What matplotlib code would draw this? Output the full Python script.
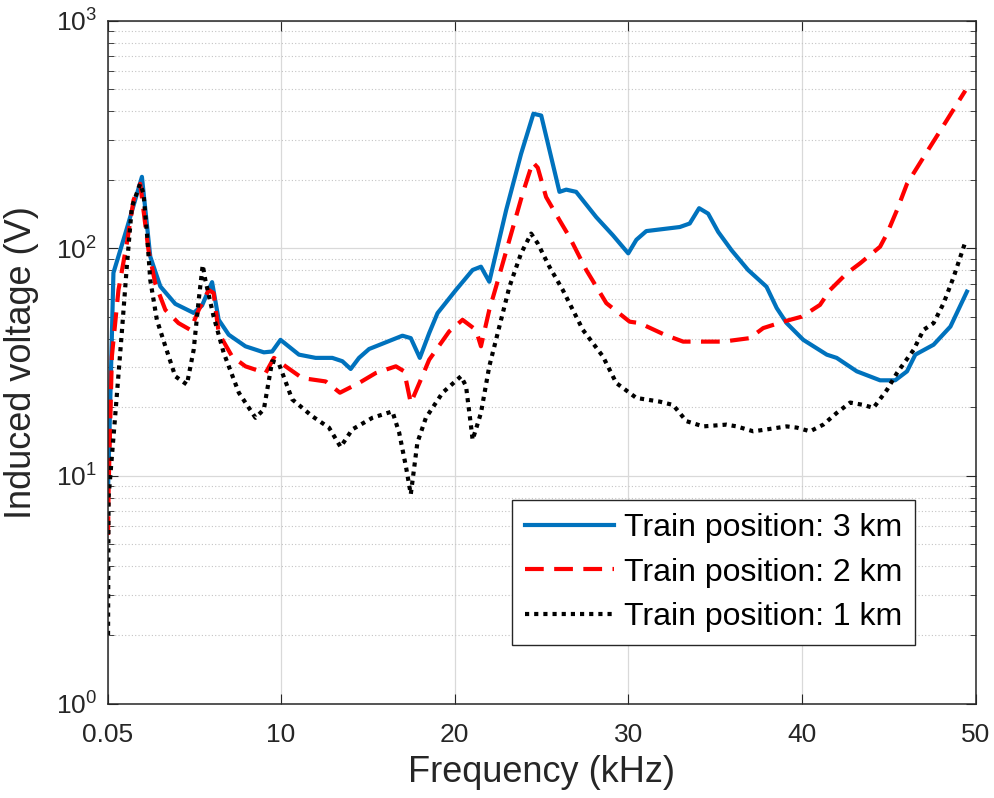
import matplotlib
matplotlib.use("Agg")
import matplotlib.pyplot as plt
from matplotlib.ticker import FixedLocator, LogLocator, NullFormatter

plt.rcParams['font.family'] = ['Liberation Sans', 'DejaVu Sans']
plt.rcParams['mathtext.default'] = 'regular'

## données

f_3km = [0.05, 0.36, 1.13, 2.0, 2.48, 3.06, 3.92, 4.98, 5.46, 6.04, 6.42, 7.0, 7.96,
         9.02, 9.5, 9.98, 11.04, 12.0, 12.96, 13.54, 14.02, 14.5, 15.08, 17.0, 17.48,
         18.0, 18.54, 19.02, 20.08, 21.04, 21.52, 22.0, 22.97, 23.83, 24.54, 24.99,
         26.04, 26.43, 27.0, 28.16, 29.12, 30.0, 30.47, 31.04, 32.97, 33.54, 34.08,
         34.6, 35.18, 35.95, 36.9, 37.96, 38.55, 39.12, 40.08, 41.43, 42.0, 43.16,
         44.5, 45.37, 46.05, 46.53, 47.58, 48.55, 49.5]
v_3km = [8.7, 78, 122, 206, 92, 68, 57, 52, 56, 71, 48.5, 41.7, 37.1,
         34.9, 35.2, 39.6, 34.1, 33.0, 33.0, 31.9, 29.5, 33, 36.1, 41.3, 40.3,
         33, 42.4, 51.9, 65.6, 80.3, 83, 71.3, 147, 260, 390, 383,
         177, 181, 177, 137, 114, 95, 109, 119, 124, 128.5, 150,
         142, 118, 98, 80.3, 67.8, 54.6, 46.9, 39.6, 34.1, 33, 28.8,
         26.3, 26.3, 28.8, 34.1, 37.7, 45.3, 64.5]

f_2km = [0.05, 0.08, 0.27, 0.65, 1.13, 1.52, 1.9, 2.38, 2.77, 3.35, 4.11, 4.79, 5.27,
         5.85, 6.13, 6.42, 7.19, 7.96, 9.12, 9.6, 10.27, 11.23, 12.58, 13.4, 14.5,
         15.46, 16.62, 17.1, 17.48, 18.06, 18.54, 19.69, 20.46, 21.23, 21.52, 22.0,
         22.39, 23.16, 23.92, 24.5, 24.79, 25.27, 26.04, 26.62, 27.58, 28.74, 30.08,
         30.66, 32.1, 33.16, 35.46, 37.0, 37.77, 38.93, 40.0, 41.04, 41.62, 42.58,
         43.35, 44.5, 44.9, 45.47, 46.05, 47.0, 47.97, 48.93, 49.41]
v_2km = [5.5, 8.7, 33.5, 65.6, 105, 163, 192, 98, 70, 53.6, 46.9, 43.8, 53.6,
         65.6, 63.5, 42.4, 33.5, 30.3, 28.3, 33, 30.3, 26.9, 26.0, 23.2, 25.6,
         28.3, 30.3, 28.8, 20.9, 26.5, 32.4, 43.1, 48.5, 43.8, 37.1, 53.6,
         67.8, 109, 174, 239, 226, 168, 133, 112, 80.3, 57.4, 47.6,
         46.9, 41.7, 38.9, 38.9, 40.3, 44.6, 47.6, 50.1, 56.4, 65.6, 77.6,
         85.9, 101.6, 116, 147, 192, 251, 329, 431, 493]

f_1km = [0.05, 0.08, 0.46, 0.84, 1.13, 1.42, 1.9, 2.09, 2.29, 2.48, 2.86, 3.35, 3.92,
         4.59, 4.98, 5.27, 5.5, 5.65, 6.13, 6.71, 7.58, 8.54, 9.02, 9.5, 9.88, 10.65,
         11.8, 12.77, 13.44, 14.11, 15.27, 16.42, 16.81, 17.2, 17.48, 17.86, 18.35,
         19.31, 20.37, 20.66, 20.95, 21.04, 21.52, 22.0, 22.58, 23.16, 23.83, 24.41,
         24.79, 25.46, 26.23, 27.39, 28.54, 29.31, 30.47, 31.81, 32.58, 33.35, 34.31,
         35.66, 36.24, 37.2, 37.96, 39.12, 39.7, 40.47, 41.23, 42.0, 42.78, 43.54,
         44.12, 44.9, 45.47, 46.43, 47.0, 47.58, 48.16, 48.74, 49.41]
v_1km = [2.0, 8.06, 18.3, 42.4, 83, 152, 192, 174, 116, 72.6, 48.5, 37.1, 27.4,
         25.2, 35.8, 59.3, 84.4, 72.6, 50.1, 34.7, 23.2, 18.0, 19.6, 31.9, 31.2, 21.7,
         18.3, 16.3, 13.4, 16, 18.0, 19.2, 15.5, 11, 8.3, 14, 18,
         23.2, 27.4, 24.8, 16.5, 14.4, 18.9, 30.3, 45.3, 67.8, 95, 116,
         105, 83, 65.6, 43.8, 33.5, 25.6, 22, 21.2, 20.5, 17.4, 16.5,
         16.8, 16.5, 15.7, 16, 16.5, 16.3, 15.7, 16.8, 18.9, 21.0, 20.5,
         19.9, 23.9, 28.3, 35.8, 43.8, 46.9, 57.4, 75, 106.7]

x_ticks = [0.05, 10, 20, 30, 40, 50]
x_tick_labels = ["0.05", "10", "20", "30", "40", "50"]

## le dessin

fig = plt.figure(figsize=(9.94, 7.98), dpi=100)
ax = fig.add_axes([0.1087, 0.1184, 0.8728, 0.8557])

ax.plot(f_3km, v_3km, color="#0072BD", lw=3, label="Train position: 3 km")
ax.plot(f_2km, v_2km, color="red", lw=3, dashes=(4.5, 2.5), label="Train position: 2 km")
ax.plot(f_1km, v_1km, color="black", lw=3, dashes=(1, 1.2), dash_capstyle="butt",
        label="Train position: 1 km")

ax.set_yscale("log")
ax.set_xlim(0.05, 50)
ax.set_ylim(1, 1000)
ax.xaxis.set_major_locator(FixedLocator(x_ticks))
ax.set_xticklabels(x_tick_labels)
ax.yaxis.set_major_locator(LogLocator(base=10, numticks=10))
ax.yaxis.set_minor_locator(LogLocator(base=10, subs=range(2, 10), numticks=20))
ax.yaxis.set_minor_formatter(NullFormatter())

dark = "#262626"
for s in ax.spines.values():
    s.set_color(dark)
    s.set_linewidth(1.1)
ax.tick_params(which="both", direction="in", top=True, right=True, colors=dark,
               labelcolor=dark, labelsize=19)
ax.tick_params(axis="x", which="major", length=7, pad=14)
ax.tick_params(axis="y", which="major", length=7, pad=8)
ax.tick_params(axis="y", which="minor", length=4)

ax.grid(True, which="major", color="#d9d9d9", lw=0.9, ls="-")
ax.grid(True, which="minor", axis="y", color="#c4c4c4", lw=0.8, ls=(0, (1, 2)))
ax.set_axisbelow(True)

ax.set_xlabel("Frequency (kHz)", fontsize=26, color=dark, labelpad=6)
ax.set_ylabel("Induced voltage (V)", fontsize=26, color=dark, labelpad=12)

leg = ax.legend(loc="lower right", bbox_to_anchor=(0.93, 0.086), borderaxespad=0,
                fontsize=23, handlelength=2.8, handletextpad=0.3, labelspacing=0.45,
                borderpad=0.4, fancybox=False, framealpha=1)
leg.get_frame().set_edgecolor(dark)
leg.get_frame().set_linewidth(1.0)

plt.savefig("out.png", dpi=100)
